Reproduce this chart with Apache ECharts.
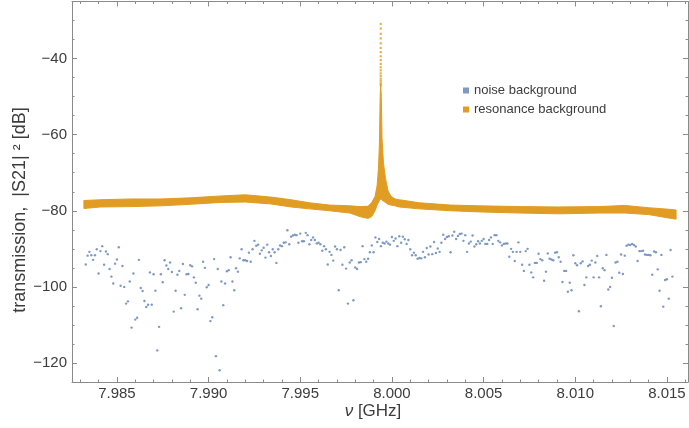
<!DOCTYPE html>
<html>
<head>
<meta charset="utf-8">
<script src="https://cdn.jsdelivr.net/npm/echarts@6/dist/echarts.min.js"></script>
<style>
  html, body { margin: 0; padding: 0; background: #ffffff; }
  #chart { width: 689px; height: 428px; }
</style>
</head>
<body>
<div id="chart"></div>
<script>
// ---- data ----
// frequency sweep of the noise measurement: first point and step (GHz)
const noiseStart = 7.9833;
const noiseStep = 0.0001;
// noise background |S21|^2 in dB, one value per sweep point
const noiseDb = [
  -94.1, -91.8, -90.8, -91.7, -92.9, -91.7, -90.1, -96.5, -90.6, -89.3,
  -94.2, -90.7, -91.4, -95.3, -97.3, -99.1, -93.9, -92.8, -89.6, -99.7,
  -94.5, -100.0, -104.4, -103.8, -98.6, -110.7, -96.5, -108.6, -108.1, -92.9,
  -100.3, -101.1, -103.7, -105.3, -104.7, -96.2, -104.7, -96.7, -101.0, -116.7,
  -110.5, -96.7, -98.8, -93.0, -94.4, -95.3, -93.6, -96.1, -106.5, -101.0,
  -96.8, -95.8, -105.6, -94.0, -102.1, -96.7, -96.6, -94.3, -94.6, -97.5,
  -98.9, -105.9, -102.3, -103.1, -93.4, -95.0, -100.1, -99.5, -109.0, -108.0,
  -92.7, -118.2, -95.3, -121.9, -98.6, -104.8, -99.1, -95.9, -95.6, -92.2,
  -98.6, -100.9, -95.1, -96.0, -92.5, -90.1, -93.0, -93.0, -93.2, -91.0,
  -93.4, -90.1, -87.9, -89.2, -88.9, -91.3, -90.4, -89.7, -92.3, -88.9,
  -90.9, -91.9, -90.1, -90.9, -93.7, -90.1, -89.1, -89.3, -88.4, -88.3,
  -85.1, -88.8, -86.8, -86.5, -86.3, -86.4, -88.4, -86.0, -88.0, -88.0,
  -85.8, -86.4, -88.8, -87.7, -87.0, -87.7, -88.6, -88.4, -88.8, -90.5,
  -89.3, -90.1, -94.1, -90.8, -91.6, -93.1, -89.4, -90.1, -100.9, -90.3,
  -94.2, -89.6, -95.2, -104.4, -93.6, -93.0, -103.5, -94.9, -95.3, -93.6,
  -93.5, -89.3, -92.7, -93.4,
  -92.6, -90.9, -89.1, -90.9, -87.0, -88.2, -87.4, -89.3, -88.4, -88.6,
  -88.1, -88.6, -88.9, -86.9, -87.9, -87.3, -89.3, -86.7, -88.4, -86.8,
  -87.5, -88.7, -87.7, -90.1, -91.7, -91.0, -91.7, -92.6, -92.4, -92.5,
  -90.8, -92.2, -89.8, -91.5, -89.4, -91.4, -88.2, -91.1, -89.9, -90.8,
  -88.4, -86.3, -87.4, -86.9, -86.7, -90.9, -86.5, -85.5, -87.4, -86.6,
  -86.1, -86.0, -87.9, -86.4, -90.8, -88.6, -88.1, -86.5, -89.4, -88.8,
  -88.0, -88.6, -87.9, -87.4, -88.7, -88.7, -87.7, -87.0, -88.7, -86.4,
  -86.4, -87.9, -88.3, -89.1, -88.7, -88.6, -88.6, -92.1, -90.0, -90.8,
  -93.2, -90.8, -88.3, -90.8, -94.2, -95.8, -90.6, -90.0, -94.2, -96.2,
  -97.5, -93.7, -93.7, -91.3, -92.7, -93.0, -98.4, -96.0, -91.2, -92.6,
  -92.8, -93.0, -91.0, -90.9, -92.2, -93.4, -98.7, -95.8, -95.8, -101.3,
  -98.9, -100.9, -91.7, -93.8, -94.3, -106.4, -93.8, -93.3, -99.5, -97.5,
  -94.5, -94.2, -93.1, -97.5, -93.6, -91.9, -97.5, -105.1, -95.1, -95.6,
  -91.6, -100.7, -100.0, -97.6, -110.3, -93.6, -93.4, -96.3, -91.5, -96.6,
  -91.8, -89.2, -88.9, -89.0, -88.7, -89.0, -89.4, -93.2, -90.6, -90.6,
  -90.5, -91.5, -91.6, -91.6, -91.7, -96.8, -90.7, -90.9, -95.4, -101.0,
  -91.6, -105.2, -98.2, -98.0, -103.1, -90.3, -97.3
];

// resonance background: extent of the dense trace (GHz, upper dB, lower dB)
const bandFreq = [
  7.9832, 7.9841, 7.9858, 7.9874, 7.9890, 7.9907, 7.9920, 7.9934, 7.9945, 7.9955,
  7.9966, 7.9977, 7.9983, 7.99870, 7.99890, 7.99908, 7.99919, 7.99927, 7.99932, 7.99936,
  7.99939, 7.99942, 7.99946, 7.99954, 7.99965, 7.99979, 7.99995, 8.00017, 8.0004, 8.0015,
  8.0032, 8.0048, 8.0070, 8.0091, 8.0113, 8.0127, 8.0140, 8.0151, 8.0155
];
const bandUpper = [
  -77.3, -77.1, -76.9, -76.9, -76.6, -76.1, -75.8, -76.4, -77.1, -77.9,
  -78.5, -78.7, -78.9, -78.8, -77.8, -76.2, -73.5, -68.5, -62.0, -50.0,
  -46.5, -50.0, -61.0, -67.5, -71.5, -74.8, -76.2, -76.9, -77.1, -77.9,
  -78.5, -78.7, -78.9, -79.0, -78.9, -78.6, -79.2, -79.6, -79.8
];
const bandLower = [
  -79.4, -79.0, -78.9, -78.7, -78.3, -77.8, -77.7, -78.2, -79.0, -79.5,
  -80.0, -80.6, -81.6, -82.0, -81.5, -80.0, -78.5, -77.8, -77.3, -77.0,
  -77.0, -77.0, -77.2, -77.5, -77.8, -78.3, -78.5, -78.7, -79.0, -79.5,
  -80.0, -80.3, -80.6, -80.8, -80.6, -80.6, -81.0, -81.9, -82.2
];
// sparse samples on the resonance peak
const peakFreq = 7.99939;
const peakDb = [
  -30.9, -32.1, -33.5, -34.7, -36.0, -37.2, -38.3, -39.4, -40.4, -41.4,
  -42.3, -43.1, -43.9, -44.6, -45.3, -45.9, -46.5, -47.0
];

// axis ticks
const xMajorTicks = [7.985, 7.990, 7.995, 8.000, 8.005, 8.010, 8.015];
const yMajorTicks = [-120, -100, -80, -60, -40];
const seriesNames = ['noise background', 'resonance background'];

// ---- styling ----
const X_MIN = 7.98255, X_MAX = 8.01615;
const Y_MIN = -125, Y_MAX = -25;
const FRAME = '#8a8a8a';
const TEXT = '#3c3c3c';
const BLUE = '#5E81B5';
const ORANGE = '#E19C24';
const FONT = 'Liberation Sans, Arial, sans-serif';

const xMinorTicks = [];
for (let i = 0; i <= 33; i++) xMinorTicks.push(+(7.983 + i * 0.001).toFixed(3));
const yMinorTicks = [];
for (let v = -125; v <= -25; v += 5) yMinorTicks.push(v);

function frameAxis(dim, position, ticks, len, showLine, labels) {
  const ax = {
    type: 'value',
    position: position,
    min: dim === 'x' ? X_MIN : Y_MIN,
    max: dim === 'x' ? X_MAX : Y_MAX,
    axisLine: { show: showLine, onZero: false, lineStyle: { color: FRAME, width: 1 } },
    axisTick: { show: true, inside: true, length: len, customValues: ticks,
                lineStyle: { color: FRAME, width: 1 } },
    axisLabel: { show: false },
    splitLine: { show: false },
    minorTick: { show: false },
    z: 5
  };
  if (labels) {
    ax.axisLabel = {
      show: true, customValues: ticks, color: TEXT, fontSize: 15, fontFamily: FONT,
      margin: dim === 'x' ? 4 : 5,
      formatter: dim === 'x'
        ? (v) => v.toFixed(3)
        : (v) => (v < 0 ? '\u2212' : '') + Math.abs(v)
    };
  }
  return ax;
}

const noiseData = noiseDb.map((v, i) => [noiseStart + i * noiseStep, v]);
const peakData = peakDb.map((v) => [peakFreq, v]);

const chart = echarts.init(document.getElementById('chart'), null, { renderer: 'canvas' });
chart.setOption({
  animation: false,
  backgroundColor: '#ffffff',
  textStyle: { fontFamily: FONT },
  grid: { left: 72, right: 1, top: 1.5, bottom: 46, containLabel: false },
  xAxis: [
    frameAxis('x', 'bottom', xMajorTicks, 5, true, true),
    frameAxis('x', 'bottom', xMinorTicks, 2.5, false, false),
    frameAxis('x', 'top', xMajorTicks, 5, true, false),
    frameAxis('x', 'top', xMinorTicks, 2.5, false, false)
  ],
  yAxis: [
    frameAxis('y', 'left', yMajorTicks, 5, true, true),
    frameAxis('y', 'left', yMinorTicks, 2.5, false, false),
    frameAxis('y', 'right', yMajorTicks, 5, true, false),
    frameAxis('y', 'right', yMinorTicks, 2.5, false, false)
  ],
  legend: {
    orient: 'vertical',
    left: 458, top: 79,
    icon: 'rect', itemWidth: 6, itemHeight: 6, itemGap: 6,
    data: seriesNames,
    textStyle: { color: TEXT, fontSize: 13, fontFamily: FONT, lineHeight: 13 }
  },
  series: [
    {
      name: seriesNames[0],
      type: 'scatter',
      symbol: 'circle',
      symbolSize: 2.4,
      itemStyle: { color: BLUE },
      data: noiseData,
      z: 2
    },
    {
      name: seriesNames[1],
      type: 'custom',
      itemStyle: { color: ORANGE },
      data: [[bandFreq[0], bandUpper[0]]],
      renderItem: function (params, api) {
        const pts = [];
        for (let i = 0; i < bandFreq.length; i++) pts.push(api.coord([bandFreq[i], bandUpper[i]]));
        for (let i = bandFreq.length - 1; i >= 0; i--) pts.push(api.coord([bandFreq[i], bandLower[i]]));
        return {
          type: 'polygon',
          shape: { points: pts },
          style: { fill: ORANGE, stroke: ORANGE, lineWidth: 1, lineJoin: 'round' }
        };
      },
      z: 3
    },
    {
      name: seriesNames[1],
      type: 'scatter',
      symbol: 'rect',
      symbolSize: 2.2,
      itemStyle: { color: ORANGE },
      data: peakData,
      z: 3
    }
  ],
  graphic: [
    {
      type: 'text',
      x: 20, y: 210,
      rotation: Math.PI / 2,
      style: {
        text: 'transmission,  |S21| \u00B2 [dB]',
        fill: TEXT,
        font: '18px ' + FONT,
        textAlign: 'center',
        textVerticalAlign: 'middle'
      }
    },
    {
      type: 'text',
      x: 373, y: 411,
      style: {
        text: '{i|\u03BD} [GHz]',
        fill: TEXT,
        font: '17px ' + FONT,
        textAlign: 'center',
        textVerticalAlign: 'middle',
        rich: { i: { fontStyle: 'italic', fontSize: 17, fontFamily: FONT, fill: TEXT } }
      }
    }
  ]
});
</script>
</body>
</html>
